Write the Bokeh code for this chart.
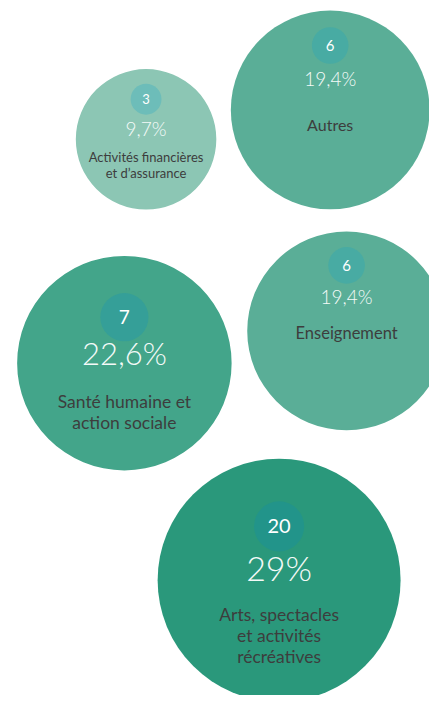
import numpy as np
from bokeh.plotting import figure
from bokeh.models import ColumnDataSource, Range1d
from bokeh.core.properties import value
from bokeh.embed import file_html
from bokeh.resources import INLINE

# ---- data ----
categories = ["Activités financières\net d’assurance", "Autres",
              "Santé humaine et\naction sociale", "Enseignement",
              "Arts, spectacles\net activités\nrécréatives"]
counts = [3, 6, 7, 6, 20]
percents = [9.7, 19.4, 22.6, 19.4, 29.0]
pct_labels = ["9,7%", "19,4%", "22,6%", "19,4%", "29%"]

# ---- layout (design space 445 x 711, y measured from top) ----
W, H = 429, 695           # figure size in pixels
DW, DH = 445, 711         # design space
cx = [151, 342, 128.5, 359, 289]
cy_top = [142, 112, 371, 338, 593]
k = 23.4
radii = [k * np.sqrt(p) for p in percents]
small_dy = [-41, -66, -47, -67, -55]
small_r = [16, 19, 25, 19, 26]
pct_dy = [-11, -32, -10, -35, -13]
label_dy = [26, 15, 50, 2, 57]
count_fs = ["13px", "15px", "19px", "15px", "20px"]
pct_fs = ["19px", "19px", "31px", "19px", "34px"]
label_fs = ["13px", "16px", "17.5px", "16.5px", "17.5px"]
big_col = ["#8cc6b4", "#5aae97", "#43a58a", "#5aae97", "#2a987b"]
small_col = ["#6dbdb9", "#48aba3", "#359f98", "#48aba3", "#22948a"]

def fy(v):
    return DH - v

src = ColumnDataSource(dict(
    x=cx,
    y=[fy(c) for c in cy_top],
    r=radii,
    big_col=big_col,
    sx=cx,
    sy=[fy(c + d) for c, d in zip(cy_top, small_dy)],
    sr=small_r,
    small_col=small_col,
    count=[str(c) for c in counts],
    count_fs=count_fs,
    py=[fy(c + d) for c, d in zip(cy_top, pct_dy)],
    pct=pct_labels,
    pct_fs=pct_fs,
    ly=[fy(c + d) for c, d in zip(cy_top, label_dy)],
    label=categories,
    label_fs=label_fs,
))

p = figure(width=W, height=H, output_backend="svg", toolbar_location=None,
           x_range=Range1d(0, DW), y_range=Range1d(0, DH),
           x_axis_location=None, y_axis_location=None,
           min_border=0, outline_line_color=None, background_fill_color="white")
p.xgrid.visible = False
p.ygrid.visible = False

p.circle(x="x", y="y", radius="r", fill_color="big_col", line_color=None, source=src)
p.circle(x="sx", y="sy", radius="sr", fill_color="small_col", line_color=None, source=src)

p.text(x="sx", y="sy", text="count", text_font=value("Lato"), text_font_size="count_fs",
       text_color="white", text_align="center", text_baseline="middle", source=src)
p.text(x="x", y="py", text="pct", text_font=value("'Lato Light', Lato"), text_font_size="pct_fs",
       text_color="#f4faf8", text_align="center", text_baseline="middle", source=src)
p.text(x="x", y="ly", text="label", text_font=value("Lato"), text_font_size="label_fs",
       text_color="#3d3d3d", text_align="center", text_baseline="middle",
       text_line_height=1.0, source=src)

open("out.html", "w").write(file_html(p, INLINE))
